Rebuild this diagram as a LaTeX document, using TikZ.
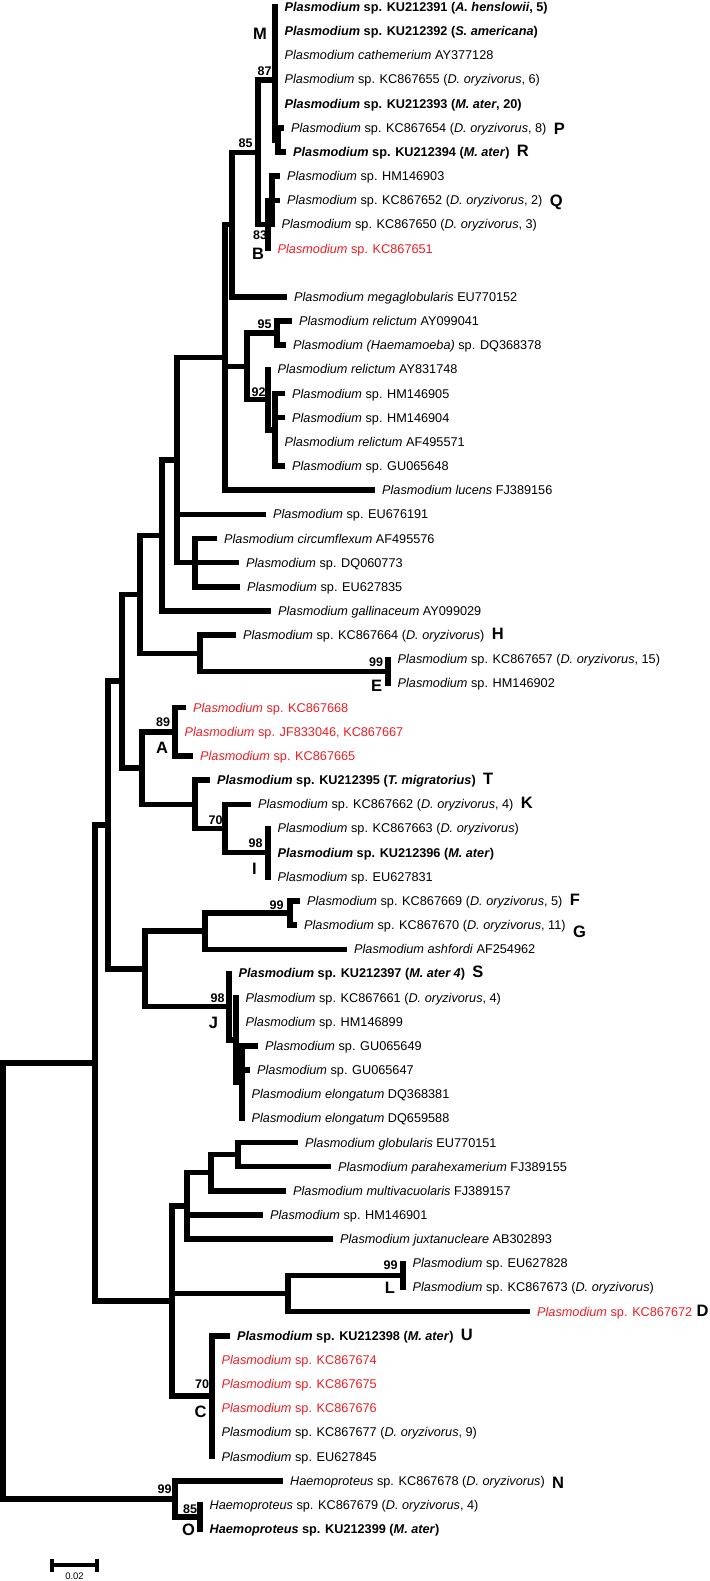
\documentclass[tikz,border=0pt]{standalone}
\usepackage{fontspec}
\setmainfont{Liberation Sans}
\definecolor{tred}{RGB}{235,30,36}
\newcommand{\Plas}{\textit{Plasmodium}}
\newcommand{\Haem}{\textit{Haemoproteus}}
\newcommand{\Dory}{\textit{D. oryzivorus}}
\tikzset{
  br/.style={line width=5.5pt, line cap=rect, line join=miter},
  leaf/.style={anchor=base west, inner sep=0pt, xshift=9.5pt, yshift=-4.5pt, font=\fontsize{12.7}{15}\selectfont},
  redleaf/.style={leaf, text=tred},
  boot/.style={inner sep=0pt, font=\bfseries\fontsize{12.5}{14}\selectfont},
  clade/.style={inner sep=0pt, font=\bfseries\fontsize{16.5}{18}\selectfont},
  after/.style={clade, anchor=base west, xshift=7pt},
  scalelbl/.style={inner sep=0pt, font=\fontsize{9.5}{11}\selectfont}
}
\begin{document}
\begin{tikzpicture}[x=1pt,y=-1pt]
\useasboundingbox (0,0) rectangle (709,1581);
% ---------- internal nodes ----------
\coordinate (root) at (3,1281);
\coordinate (P) at (95,1063);
\coordinate (N7) at (108,825);
\coordinate (N6) at (122,681.2);
\coordinate (N5) at (140,594.4);
\coordinate (N4) at (162,535.5);
\coordinate (N3) at (177,460);
\coordinate (N1) at (225,357.45);
\coordinate (N2) at (232,224.7);
\coordinate (N85) at (258,152.5);
\coordinate (N87) at (275,80);
\coordinate (N87b) at (278,139.88);
\coordinate (B) at (268,224.44);
\coordinate (B2) at (272,200.28);
\coordinate (R) at (247,366.38);
\coordinate (n95) at (277,333.16);
\coordinate (n92) at (268,399.6);
\coordinate (n92b) at (275,429.8);
\coordinate (circ) at (195,562.68);
\coordinate (Hn) at (200,653.3);
\coordinate (E) at (388,671.4);
\coordinate (AT) at (142,768.04);
\coordinate (A) at (175,731.8);
\coordinate (T) at (195,804.28);
\coordinate (n70) at (225,828.44);
\coordinate (I) at (268,852.6);
\coordinate (FJ) at (145,968.9);
\coordinate (FA) at (205,931.1);
\coordinate (F) at (290,913);
\coordinate (J) at (229,1006.6);
\coordinate (J2) at (236,1039.8);
\coordinate (J3) at (242,1082.1);
\coordinate (Q) at (172,1301);
\coordinate (G) at (187,1205.9);
\coordinate (G2) at (211,1172.7);
\coordinate (G3) at (238,1154.6);
\coordinate (LD) at (288,1293.5);
\coordinate (L) at (403,1275.4);
\coordinate (C) at (212,1396.2);
\coordinate (H99) at (175,1498.9);
\coordinate (O) at (200,1517);
% ---------- leaf tips ----------
\coordinate (l0) at (275,7);
\coordinate (l1) at (275,31.16);
\coordinate (l2) at (275,55.32);
\coordinate (l3) at (275,79.48);
\coordinate (l4) at (275,103.64);
\coordinate (l5) at (281.5,127.8);
\coordinate (l6) at (283.5,151.96);
\coordinate (l7) at (277.5,176.12);
\coordinate (l8) at (277.5,200.28);
\coordinate (l9) at (272,224.44);
\coordinate (l10) at (268,248.6);
\coordinate (l12) at (284.5,296.92);
\coordinate (l13) at (289.5,321.08);
\coordinate (l14) at (283.5,345.24);
\coordinate (l15) at (268,369.4);
\coordinate (l16) at (282.5,393.56);
\coordinate (l17) at (282.5,417.72);
\coordinate (l18) at (275,441.88);
\coordinate (l19) at (282.5,466.04);
\coordinate (l20) at (372.5,490.2);
\coordinate (l21) at (263.5,514.36);
\coordinate (l22) at (214.5,538.52);
\coordinate (l23) at (236.5,562.68);
\coordinate (l24) at (237.5,586.84);
\coordinate (l25) at (268.5,611);
\coordinate (l26) at (233.5,635.16);
\coordinate (l27) at (388,659.32);
\coordinate (l28) at (388,683.48);
\coordinate (l29) at (183.5,707.64);
\coordinate (l30) at (175,731.8);
\coordinate (l31) at (190.5,755.96);
\coordinate (l32) at (207.5,780.12);
\coordinate (l33) at (248.5,804.28);
\coordinate (l34) at (268,828.44);
\coordinate (l35) at (268,852.6);
\coordinate (l36) at (268,876.76);
\coordinate (l37) at (297.5,900.92);
\coordinate (l38) at (294.5,925.08);
\coordinate (l39) at (344.5,949.24);
\coordinate (l40) at (229,973.4);
\coordinate (l41) at (236,997.56);
\coordinate (l42) at (236,1021.72);
\coordinate (l43) at (255.5,1045.88);
\coordinate (l44) at (247.5,1070.04);
\coordinate (l45) at (242,1094.2);
\coordinate (l46) at (242,1118.36);
\coordinate (l47) at (295.5,1142.52);
\coordinate (l48) at (328.5,1166.68);
\coordinate (l49) at (283.5,1190.84);
\coordinate (l50) at (260.5,1215);
\coordinate (l51) at (330.5,1239.16);
\coordinate (l52) at (403,1263.32);
\coordinate (l53) at (403,1287.48);
\coordinate (l54) at (527.5,1311.64);
\coordinate (l55) at (227.5,1335.8);
\coordinate (l56) at (212,1359.96);
\coordinate (l57) at (212,1384.12);
\coordinate (l58) at (212,1408.28);
\coordinate (l59) at (212,1432.44);
\coordinate (l60) at (212,1456.6);
\coordinate (l61) at (280.5,1480.76);
\coordinate (l62) at (200,1504.92);
\coordinate (l63) at (200,1529.08);
% ---------- branches ----------
\draw[br] (root) |- (P); \draw[br] (root) |- (H99);
\draw[br] (P) |- (N7); \draw[br] (P) |- (Q);
\draw[br] (N7) |- (N6); \draw[br] (N7) |- (FJ);
\draw[br] (N6) |- (N5); \draw[br] (N6) |- (AT);
\draw[br] (N5) |- (N4); \draw[br] (N5) |- (Hn);
\draw[br] (N4) |- (N3); \draw[br] (N4) |- (l25);
\draw[br] (N3) |- (N1); \draw[br] (N3) |- (l21); \draw[br] (N3) |- (circ);
\draw[br] (N1) |- (N2); \draw[br] (N1) |- (R); \draw[br] (N1) |- (l20);
\draw[br] (N2) |- (N85); \draw[br] (N2) |- (l12);
\draw[br] (N85) |- (N87); \draw[br] (N85) |- (B);
\draw[br] (N87) -- (l0); \draw[br] (N87) |- (N87b);
\draw[br] (N87b) |- (l5); \draw[br] (N87b) |- (l6);
\draw[br] (B) |- (B2); \draw[br] (B) -- (l10);
\draw[br] (B2) |- (l7); \draw[br] (B2) |- (l8); \draw[br] (B2) -- (l9);
\draw[br] (R) |- (n95); \draw[br] (R) |- (n92);
\draw[br] (n95) |- (l13); \draw[br] (n95) |- (l14);
\draw[br] (n92) -- (l15); \draw[br] (n92) |- (n92b);
\draw[br] (n92b) |- (l16); \draw[br] (n92b) |- (l17); \draw[br] (n92b) |- (l19);
\draw[br] (circ) |- (l22); \draw[br] (circ) |- (l23); \draw[br] (circ) |- (l24);
\draw[br] (Hn) |- (l26); \draw[br] (Hn) |- (E);
\draw[br] (E) -- (l27); \draw[br] (E) -- (l28);
\draw[br] (AT) |- (A); \draw[br] (AT) |- (T);
\draw[br] (A) |- (l29); \draw[br] (A) |- (l31);
\draw[br] (T) |- (l32); \draw[br] (T) |- (n70);
\draw[br] (n70) |- (l33); \draw[br] (n70) |- (I);
\draw[br] (I) -- (l34); \draw[br] (I) -- (l36);
\draw[br] (FJ) |- (FA); \draw[br] (FJ) |- (J);
\draw[br] (FA) |- (F); \draw[br] (FA) |- (l39);
\draw[br] (F) |- (l37); \draw[br] (F) |- (l38);
\draw[br] (J) -- (l40); \draw[br] (J) |- (J2);
\draw[br] (J2) -- (l41); \draw[br] (J2) |- (J3);
\draw[br] (J3) |- (l43); \draw[br] (J3) |- (l44); \draw[br] (J3) -- (l46);
\draw[br] (Q) |- (G); \draw[br] (Q) |- (LD); \draw[br] (Q) |- (C);
\draw[br] (G) |- (G2); \draw[br] (G) |- (l50); \draw[br] (G) |- (l51);
\draw[br] (G2) |- (G3); \draw[br] (G2) |- (l49);
\draw[br] (G3) |- (l47); \draw[br] (G3) |- (l48);
\draw[br] (LD) |- (L); \draw[br] (LD) |- (l54);
\draw[br] (L) -- (l52); \draw[br] (L) -- (l53);
\draw[br] (C) |- (l55); \draw[br] (C) -- (l60);
\draw[br] (H99) |- (l61); \draw[br] (H99) |- (O);
\draw[br] (O) -- (l62); \draw[br] (O) -- (l63);
% ---------- leaf labels ----------
\node[leaf] (t0) at (l0) {\bfseries\Plas{} sp. KU212391 (\textit{A. henslowii}, 5)};
\node[leaf] (t1) at (l1) {\bfseries\Plas{} sp. KU212392 (\textit{S. americana})};
\node[leaf] (t2) at (l2) {\textit{Plasmodium cathemerium} AY377128};
\node[leaf] (t3) at (l3) {\Plas{} sp. KC867655 (\Dory, 6)};
\node[leaf] (t4) at (l4) {\bfseries\Plas{} sp. KU212393 (\textit{M. ater}, 20)};
\node[leaf] (t5) at (l5) {\Plas{} sp. KC867654 (\Dory, 8)};
\node[leaf] (t6) at (l6) {\bfseries\Plas{} sp. KU212394 (\textit{M. ater})};
\node[leaf] (t7) at (l7) {\Plas{} sp. HM146903};
\node[leaf] (t8) at (l8) {\Plas{} sp. KC867652 (\Dory, 2)};
\node[leaf] (t9) at (l9) {\Plas{} sp. KC867650 (\Dory, 3)};
\node[redleaf] (t10) at (l10) {\Plas{} sp. KC867651};
\node[leaf] (t12) at (l12) {\textit{Plasmodium megaglobularis} EU770152};
\node[leaf] (t13) at (l13) {\textit{Plasmodium relictum} AY099041};
\node[leaf] (t14) at (l14) {\textit{Plasmodium (Haemamoeba)} sp. DQ368378};
\node[leaf] (t15) at (l15) {\textit{Plasmodium relictum} AY831748};
\node[leaf] (t16) at (l16) {\Plas{} sp. HM146905};
\node[leaf] (t17) at (l17) {\Plas{} sp. HM146904};
\node[leaf] (t18) at (l18) {\textit{Plasmodium relictum} AF495571};
\node[leaf] (t19) at (l19) {\Plas{} sp. GU065648};
\node[leaf] (t20) at (l20) {\textit{Plasmodium lucens} FJ389156};
\node[leaf] (t21) at (l21) {\Plas{} sp. EU676191};
\node[leaf] (t22) at (l22) {\textit{Plasmodium circumflexum} AF495576};
\node[leaf] (t23) at (l23) {\Plas{} sp. DQ060773};
\node[leaf] (t24) at (l24) {\Plas{} sp. EU627835};
\node[leaf] (t25) at (l25) {\textit{Plasmodium gallinaceum} AY099029};
\node[leaf] (t26) at (l26) {\Plas{} sp. KC867664 (\Dory)};
\node[leaf] (t27) at (l27) {\Plas{} sp. KC867657 (\Dory, 15)};
\node[leaf] (t28) at (l28) {\Plas{} sp. HM146902};
\node[redleaf] (t29) at (l29) {\Plas{} sp. KC867668};
\node[redleaf] (t30) at (l30) {\Plas{} sp. JF833046, KC867667};
\node[redleaf] (t31) at (l31) {\Plas{} sp. KC867665};
\node[leaf] (t32) at (l32) {\bfseries\Plas{} sp. KU212395 (\textit{T. migratorius})};
\node[leaf] (t33) at (l33) {\Plas{} sp. KC867662 (\Dory, 4)};
\node[leaf] (t34) at (l34) {\Plas{} sp. KC867663 (\Dory)};
\node[leaf] (t35) at (l35) {\bfseries\Plas{} sp. KU212396 (\textit{M. ater})};
\node[leaf] (t36) at (l36) {\Plas{} sp. EU627831};
\node[leaf] (t37) at (l37) {\Plas{} sp. KC867669 (\Dory, 5)};
\node[leaf] (t38) at (l38) {\Plas{} sp. KC867670 (\Dory, 11)};
\node[leaf] (t39) at (l39) {\textit{Plasmodium ashfordi} AF254962};
\node[leaf] (t40) at (l40) {\bfseries\Plas{} sp. KU212397 (\textit{M. ater 4})};
\node[leaf] (t41) at (l41) {\Plas{} sp. KC867661 (\Dory, 4)};
\node[leaf] (t42) at (l42) {\Plas{} sp. HM146899};
\node[leaf] (t43) at (l43) {\Plas{} sp. GU065649};
\node[leaf] (t44) at (l44) {\Plas{} sp. GU065647};
\node[leaf] (t45) at (l45) {\textit{Plasmodium elongatum} DQ368381};
\node[leaf] (t46) at (l46) {\textit{Plasmodium elongatum} DQ659588};
\node[leaf] (t47) at (l47) {\textit{Plasmodium globularis} EU770151};
\node[leaf] (t48) at (l48) {\textit{Plasmodium parahexamerium} FJ389155};
\node[leaf] (t49) at (l49) {\textit{Plasmodium multivacuolaris} FJ389157};
\node[leaf] (t50) at (l50) {\Plas{} sp. HM146901};
\node[leaf] (t51) at (l51) {\textit{Plasmodium juxtanucleare} AB302893};
\node[leaf] (t52) at (l52) {\Plas{} sp. EU627828};
\node[leaf] (t53) at (l53) {\Plas{} sp. KC867673 (\Dory)};
\node[redleaf] (t54) at (l54) {\Plas{} sp. KC867672};
\node[leaf] (t55) at (l55) {\bfseries\Plas{} sp. KU212398 (\textit{M. ater})};
\node[redleaf] (t56) at (l56) {\Plas{} sp. KC867674};
\node[redleaf] (t57) at (l57) {\Plas{} sp. KC867675};
\node[redleaf] (t58) at (l58) {\Plas{} sp. KC867676};
\node[leaf] (t59) at (l59) {\Plas{} sp. KC867677 (\Dory, 9)};
\node[leaf] (t60) at (l60) {\Plas{} sp. EU627845};
\node[leaf] (t61) at (l61) {\Haem{} sp. KC867678 (\Dory)};
\node[leaf] (t62) at (l62) {\Haem{} sp. KC867679 (\Dory, 4)};
\node[leaf] (t63) at (l63) {\bfseries\Haem{} sp. KU212399 (\textit{M. ater})};
% ---------- letters after leaves ----------
\node[after, yshift=-2pt] (kP) at (t5.base east) {P};
\node[after] (kR) at (t6.base east) {R};
\node[after, yshift=-2pt] (kQ) at (t8.base east) {Q};
\node[after] (kH) at (t26.base east) {H};
\node[after] (kT) at (t32.base east) {T};
\node[after] (kK) at (t33.base east) {K};
\node[after] (kF) at (t37.base east) {F};
\node[after, yshift=-8pt] (kG) at (t38.base east) {G};
\node[after] (kS) at (t40.base east) {S};
\node[after, xshift=-3pt] (kD) at (t54.base east) {D};
\node[after] (kU) at (t55.base east) {U};
\node[after, yshift=-3pt] (kN) at (t61.base east) {N};
% ---------- clade letters and support values ----------
\node[clade] (kM) at (260,34) {M};
\node[boot] (b87) at (264.5,71) {87};
\node[boot] (b85) at (245.5,143.5) {85};
\node[boot] (b83) at (260,235) {83};
\node[clade] (kB) at (258,253.5) {B};
\node[boot] (b95) at (264.5,324.5) {95};
\node[boot] (b92) at (258.5,392.5) {92};
\node[boot] (b99e) at (376,662.5) {99};
\node[clade] (kE) at (376.5,685.5) {E};
\node[boot] (b89) at (163,722.5) {89};
\node[clade] (kA) at (162,747.5) {A};
\node[boot] (b70t) at (215.5,820) {70};
\node[boot] (b98i) at (255.5,843.5) {98};
\node[clade] (kI) at (254.5,868.5) {I};
\node[boot] (b99f) at (276.5,905) {99};
\node[boot] (b98j) at (217.5,998.5) {98};
\node[clade] (kJ) at (213.5,1023) {J};
\node[boot] (b99l) at (390.5,1265) {99};
\node[clade] (kL) at (390,1288) {L};
\node[boot] (b70c) at (202,1384.5) {70};
\node[clade] (kC) at (200.5,1411.5) {C};
\node[boot] (b99h) at (164.5,1489.5) {99};
\node[boot] (b85o) at (190,1509.5) {85};
\node[clade] (kO) at (188.5,1530) {O};
% ---------- scale bar ----------
\coordinate (sb1) at (52,1565);
\coordinate (sb2) at (97,1565);
\draw[line width=4pt] (sb1) -- (sb2);
\draw[line width=3.5pt] ([yshift=6.5pt]sb1) -- ([yshift=-6.5pt]sb1);
\draw[line width=3.5pt] ([yshift=6.5pt]sb2) -- ([yshift=-6.5pt]sb2);
\node[scalelbl] (sbl) at (74.5,1576) {0.02};
\end{tikzpicture}
\end{document}
